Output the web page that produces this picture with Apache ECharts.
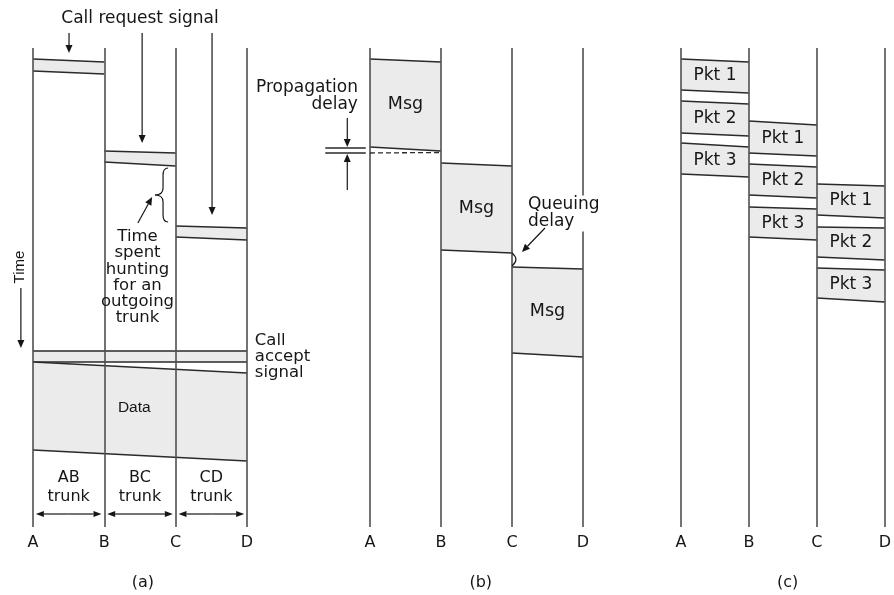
<!DOCTYPE html>
<html><head><meta charset="utf-8">
<script src="https://cdn.jsdelivr.net/npm/echarts@6/dist/echarts.min.js"></script>
<style>html,body{margin:0;padding:0;background:#fff}#c{width:894px;height:595px}</style>
</head><body><div id="c"></div>
<script>
// ---- data (time units: 0 = top of the node lines, 479 = bottom; time grows downward) ----
const nodes = ['A', 'B', 'C', 'D'];
const panelCaptions = ['(a)', '(b)', '(c)'];
// hop = [fromNode, toNode, topAtFrom, topAtTo, bottomAtFrom, bottomAtTo]
const callRequestHops = [[0, 1, 11, 14, 23, 26], [1, 2, 103, 105, 114, 118], [2, 3, 178, 180, 189, 192]];
const callAcceptHops = [[0, 3, 303, 303, 314, 314]];
const dataHops = [[0, 3, 314, 325, 402, 413]];
const messageHops = [[0, 1, 11, 14, 99, 103], [1, 2, 115, 118, 202, 205], [2, 3, 219, 221, 305, 309]];
const messageLabels = ['Msg', 'Msg', 'Msg'];
const packetHops = [
  [0, 1, 11, 14, 42, 45], [0, 1, 53, 56, 85, 88], [0, 1, 95, 99, 126, 129],
  [1, 2, 73, 77, 105, 108], [1, 2, 116, 119, 147, 150], [1, 2, 159, 161, 189, 192],
  [2, 3, 136, 138, 167, 170], [2, 3, 179, 180, 209, 212], [2, 3, 220, 222, 250, 254]
];
const packetLabels = ['Pkt 1', 'Pkt 2', 'Pkt 3', 'Pkt 1', 'Pkt 2', 'Pkt 3', 'Pkt 1', 'Pkt 2', 'Pkt 3'];
const trunkLabels = ['AB\ntrunk', 'BC\ntrunk', 'CD\ntrunk'];
const timeMax = 479;

// ---- styling ----
const FILL = '#ebebeb', EDGE = '#2a2a2a', INK = '#161616', NODE = '#505050';
const FONT = 'DejaVu Sans';

const chart = echarts.init(document.getElementById('c'), null, {renderer: 'canvas'});

const grids = [
  {left: 33, width: 214, top: 48, height: 479},
  {left: 370, width: 213, top: 48, height: 479},
  {left: 681, width: 212, top: 48, height: 479}
];

function txt(p, text, size, extra) {
  return {
    type: 'text', x: p[0], y: p[1],
    style: Object.assign({text: text, fill: INK, fontSize: size, fontFamily: FONT, align: 'center', verticalAlign: 'middle'}, extra || {})
  };
}
function ln(a, b, extra) {
  return {type: 'line', shape: {x1: a[0], y1: a[1], x2: b[0], y2: b[1]}, style: Object.assign({stroke: EDGE, lineWidth: 1.3}, extra || {})};
}
function arrow(a, b, hl, hw) {
  hl = hl || 8; hw = hw || 3.5;
  const dx = b[0] - a[0], dy = b[1] - a[1], L = Math.hypot(dx, dy), ux = dx / L, uy = dy / L;
  const base = [b[0] - ux * hl, b[1] - uy * hl], px = -uy, py = ux;
  return [ln(a, base, {stroke: INK, lineWidth: 1.2}),
    {type: 'polygon', shape: {points: [b, [base[0] + px * hw, base[1] + py * hw], [base[0] - px * hw, base[1] - py * hw]]}, style: {fill: INK}}];
}
function quad(a, c, b) {
  return {type: 'bezierCurve', shape: {x1: a[0], y1: a[1], x2: b[0], y2: b[1], cpx1: c[0], cpy1: c[1]}, style: {stroke: INK, lineWidth: 1.2, fill: null}};
}

function hopSeries(gi, hops, labels, fontSize) {
  return {
    type: 'custom', xAxisIndex: gi, yAxisIndex: gi, z: 2, silent: true,
    data: hops,
    renderItem: function (params, api) {
      const f = api.value(0), t = api.value(1);
      const p1 = api.coord([f, api.value(2)]), p2 = api.coord([t, api.value(3)]);
      const p3 = api.coord([t, api.value(5)]), p4 = api.coord([f, api.value(4)]);
      const ch = [
        {type: 'polygon', shape: {points: [p1, p2, p3, p4]}, style: {fill: FILL}},
        ln(p1, p2), ln(p4, p3)
      ];
      if (labels) {
        const c = api.coord([(f + t) / 2, (api.value(2) + api.value(3) + api.value(4) + api.value(5)) / 4]);
        ch.push(txt(c, labels[params.dataIndex], fontSize));
      }
      return {type: 'group', children: ch};
    }
  };
}

function annotSeries(gi, build) {
  return {
    type: 'custom', xAxisIndex: gi, yAxisIndex: gi, z: 10, silent: true, clip: false,
    data: [[0, 0]],
    renderItem: function (params, api) {
      const P = (x, t) => api.coord([x, t]);
      return {type: 'group', children: build(P)};
    }
  };
}

const annotA = annotSeries(0, function (P) {
  let ch = [];
  ch.push(txt(P(1.5, -29), 'Call request signal', 17));
  ch = ch.concat(arrow(P(0.505, -15), P(0.505, 5)));
  ch = ch.concat(arrow(P(1.53, -15), P(1.53, 95)));
  ch = ch.concat(arrow(P(2.51, -15), P(2.51, 167)));
  // brace
  ch.push(quad(P(1.894, 120), P(1.823, 120), P(1.823, 127)));
  ch.push(ln(P(1.823, 127), P(1.823, 140), {stroke: INK, lineWidth: 1.2}));
  ch.push(quad(P(1.823, 140), P(1.823, 147), P(1.71, 147)));
  ch.push(quad(P(1.71, 147), P(1.823, 147), P(1.823, 154)));
  ch.push(ln(P(1.823, 154), P(1.823, 167), {stroke: INK, lineWidth: 1.2}));
  ch.push(quad(P(1.823, 167), P(1.823, 174), P(1.894, 174)));
  ch = ch.concat(arrow(P(1.47, 175), P(1.67, 149)));
  ch.push(txt(P(1.465, 229.5), 'Time\nspent\nhunting\nfor an\noutgoing\ntrunk', 16.5, {lineHeight: 16.2}));
  const tp = P(-0.18, 219);
  ch.push({type: 'text', x: tp[0], y: tp[1], rotation: Math.PI / 2,
    style: {text: 'Time', fill: INK, fontSize: 15, fontFamily: 'Liberation Sans', align: 'center', verticalAlign: 'middle'}});
  ch = ch.concat(arrow(P(-0.17, 240), P(-0.17, 300)));
  ch.push(txt(P(3.11, 309), 'Call\naccept\nsignal', 16.5, {align: 'left', lineHeight: 16}));
  ch.push(txt(P(1.42, 360), 'Data', 15.5, {fontFamily: 'Liberation Sans'}));
  trunkLabels.forEach(function (s, i) {
    ch.push(txt(P(i + 0.5, 439.5), s, 16, {lineHeight: 19}));
    const a = P(i + 0.04, 466), b = P(i + 0.96, 466), m = P(i + 0.5, 466);
    ch = ch.concat(arrow(m, a, 8, 3), arrow(m, b, 8, 3));
  });
  ch.push(txt(P(1.54, 535), panelCaptions[0], 16));
  return ch;
});

const annotB = annotSeries(1, function (P) {
  let ch = [];
  ch.push(txt(P(-0.17, 48.5), 'Propagation\ndelay', 17, {align: 'right', lineHeight: 17}));
  ch.push(ln(P(-0.63, 100), P(-0.06, 100)));
  ch.push(ln(P(-0.63, 105), P(-0.06, 105)));
  ch = ch.concat(arrow(P(-0.32, 70), P(-0.32, 99)));
  ch = ch.concat(arrow(P(-0.32, 142), P(-0.32, 106)));
  ch.push(ln(P(0, 105), P(1, 104.5), {lineDash: [5, 3]}));
  ch.push(txt(P(2.225, 165.5), 'Queuing\ndelay', 17, {align: 'left', lineHeight: 17, backgroundColor: '#fff', padding: [1, 2, 1, 0]}));
  ch = ch.concat(arrow(P(2.465, 180), P(2.14, 204)));
  ch.push(quad(P(2.0, 205), P(2.11, 211.5), P(2.0, 218)));
  ch.push(txt(P(1.56, 535), panelCaptions[1], 16));
  return ch;
});

const annotC = annotSeries(2, function (P) {
  return [txt(P(1.57, 535), panelCaptions[2], 16)];
});

const option = {
  animation: false,
  backgroundColor: '#fff',
  grid: grids,
  xAxis: grids.map(function (g, i) {
    return {
      type: 'value', gridIndex: i, min: 0, max: 3, interval: 1, z: 5,
      axisLine: {show: false}, axisTick: {show: false},
      splitLine: {show: true, lineStyle: {color: NODE, width: 1.6}},
      axisLabel: {show: true, margin: 8, color: INK, fontSize: 16, fontFamily: FONT, showMinLabel: true, showMaxLabel: true,
        formatter: function (v) { return nodes[Math.round(v)]; }}
    };
  }),
  yAxis: grids.map(function (g, i) {
    return {type: 'value', gridIndex: i, min: 0, max: timeMax, inverse: true, show: false, splitLine: {show: false}};
  }),
  series: [
    hopSeries(0, callRequestHops),
    hopSeries(0, callAcceptHops),
    hopSeries(0, dataHops),
    hopSeries(1, messageHops, messageLabels, 17.5),
    hopSeries(2, packetHops, packetLabels, 17),
    annotA, annotB, annotC
  ]
};
chart.setOption(option);
</script>
</body></html>
